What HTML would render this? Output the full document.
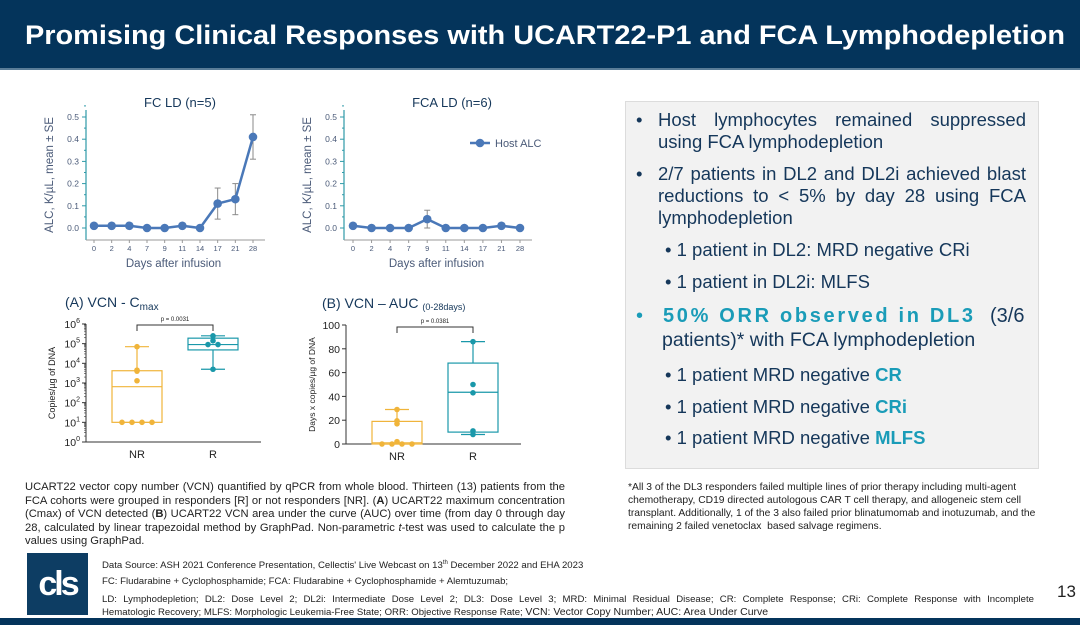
<!DOCTYPE html>
<html><head><meta charset="utf-8">
<style>
html,body{margin:0;padding:0;background:#fff;}
body{width:1080px;height:625px;position:relative;overflow:hidden;font-family:"Liberation Sans",sans-serif;}
.abs{position:absolute;}
.bl{position:absolute;color:#15375a;font-size:18.5px;white-space:nowrap;line-height:22px;}
.j{text-align:justify;text-align-last:justify;}
.hl{color:#1a9cb8;font-weight:bold;}
</style></head>
<body>
<div class="abs" style="left:0;top:0;width:1080px;height:68px;background:#04345b;border-bottom:2px solid #5a7d98;"></div>
<svg class="abs" style="left:0;top:0" width="1080" height="68"><text x="25" y="44" fill="#fff" font-family="Liberation Sans" font-weight="bold" font-size="27" textLength="1040" lengthAdjust="spacingAndGlyphs">Promising Clinical Responses with UCART22-P1 and FCA Lymphodepletion</text></svg>

<svg id="charts" class="abs" style="left:0;top:0" width="620" height="470" font-family="Liberation Sans"></svg>

<div class="abs" style="left:625px;top:101px;width:412px;height:366px;background:#f2f2f2;border:1px solid #dcdcdc;"></div>
<div class="bl" style="left:636px;top:109px">•</div>
<div class="bl j" style="left:658px;top:109px;width:368px">Host lymphocytes remained suppressed</div>
<div class="bl" style="left:658px;top:131px">using FCA lymphodepletion</div>
<div class="bl" style="left:636px;top:163px">•</div>
<div class="bl j" style="left:658px;top:163px;width:368px">2/7 patients in DL2 and DL2i achieved blast</div>
<div class="bl j" style="left:658px;top:185px;width:368px">reductions to &lt; 5% by day 28 using FCA</div>
<div class="bl" style="left:658px;top:207px">lymphodepletion</div>
<div class="bl" style="left:665px;top:239px">• 1 patient in DL2: MRD negative CRi</div>
<div class="bl" style="left:665px;top:271px">• 1 patient in DL2i: MLFS</div>
<div class="bl" style="left:636px;top:305px;color:#1a9cb8;font-size:20px">•</div>
<svg class="abs" style="left:660px;top:300px" width="370" height="30"><text x="3" y="22" fill="#1a9cb8" font-family="Liberation Sans" font-weight="bold" font-size="20" textLength="310" lengthAdjust="spacing">50% ORR observed in DL3</text><text x="330" y="22" fill="#15375a" font-family="Liberation Sans" font-size="20">(3/6</text></svg>
<div class="bl" style="left:662px;top:329px;font-size:19.5px">patients)* with FCA lymphodepletion</div>
<div class="bl" style="left:665px;top:364px">• 1 patient MRD negative <span class="hl">CR</span></div>
<div class="bl" style="left:665px;top:396px">• 1 patient MRD negative <span class="hl">CRi</span></div>
<div class="bl" style="left:665px;top:427px">• 1 patient MRD negative <span class="hl">MLFS</span></div>

<div class="abs" style="left:628px;top:481px;width:422px;font-size:10.3px;line-height:13px;color:#222;">*All 3 of the DL3 responders failed multiple lines of prior therapy including multi-agent chemotherapy, CD19 directed autologous CAR T cell therapy, and allogeneic stem cell transplant. Additionally, 1 of the 3 also failed prior blinatumomab and inotuzumab, and the remaining 2 failed venetoclax&nbsp; based salvage regimens.</div>

<div class="abs" style="left:25px;top:481px;width:540px;font-size:11.2px;line-height:13.6px;color:#222;text-align:justify;">UCART22 vector copy number (VCN) quantified by qPCR from whole blood. Thirteen (13) patients from the FCA cohorts were grouped in responders [R] or not responders [NR]. (<b>A</b>) UCART22 maximum concentration (Cmax) of VCN detected (<b>B</b>) UCART22 VCN area under the curve (AUC) over time (from day 0 through day 28, calculated by linear trapezoidal method by GraphPad. Non-parametric <i>t</i>-test was used to calculate the p values using GraphPad.</div>

<div class="abs" style="left:27px;top:553px;width:61px;height:62px;background:#0d3d63;color:#fff;font-weight:bold;font-size:34px;line-height:62px;text-align:center;letter-spacing:-3px;">cls</div>
<div class="abs" style="left:102px;top:557px;width:932px;font-size:9.6px;line-height:13.2px;color:#222;">
<div>Data Source: ASH 2021 Conference Presentation, Cellectis' Live Webcast on 13<sup style="font-size:6px">th</sup> December 2022 and EHA 2023</div>
<div style="margin-top:3px">FC: Fludarabine + Cyclophosphamide; FCA: Fludarabine + Cyclophosphamide + Alemtuzumab;</div>
<div style="margin-top:4px;text-align:justify;text-align-last:justify;white-space:nowrap;">LD: Lymphodepletion; DL2: Dose Level 2; DL2i: Intermediate Dose Level 2; DL3: Dose Level 3; MRD: Minimal Residual Disease; CR: Complete Response; CRi: Complete Response with Incomplete</div>
<div>Hematologic Recovery; MLFS: Morphologic Leukemia-Free State; ORR: Objective Response Rate; <span style="font-size:10.5px">VCN: Vector Copy Number; AUC: Area Under Curve</span></div>
</div>
<div class="abs" style="left:1057px;top:582px;font-size:17px;color:#222;">13</div>
<div class="abs" style="left:0;top:618px;width:1080px;height:7px;background:#04345b;"></div>

<script>
const days = ["0","2","4","7","9","11","14","17","21","28"];
const fcMean = [0.01,0.01,0.01,0,0,0.01,0,0.11,0.13,0.41];
const fcLow  = [null,null,null,null,null,null,null,0.04,0.06,0.31];
const fcHigh = [null,null,null,null,null,null,null,0.18,0.20,0.51];
const fcaMean = [0.01,0,0,0,0.04,0,0,0,0.01,0];
const fcaLow  = [null,null,null,null,0,null,null,null,null,null];
const fcaHigh = [null,null,null,null,0.08,null,null,null,null,null];
const alcTicks = [0,0.1,0.2,0.3,0.4,0.5];

const cmaxNR = [70000,4500,4000,1300,10,10,10,10];
const cmaxR = [140000,250000,90000,90000,5000];
const cmaxNRbox = [10,650,4200,10,70000]; // q1, median, q3, min, max
const cmaxRbox = [48000,90000,190000,5000,250000];
const aucNR = [29,17,19.5,2,0,0,0,0];
const aucR = [86,50,43,11,8];
const aucNRbox = [0,1,19,0,29];
const aucRbox = [10,43.5,68,8,86];
const aucTicks = [0,20,40,60,80,100];
const groups = ["NR","R"];

const NS="http://www.w3.org/2000/svg";
const svg=document.getElementById('charts');
function el(tag,attrs,parent,txt){const e=document.createElementNS(NS,tag);for(const k in attrs)e.setAttribute(k,attrs[k]);if(txt!=null)e.textContent=txt;(parent||svg).appendChild(e);return e;}

function lineChart(ox,x0,x1,mean,lo,hi,title,tx,name,legend){
  const g=el('g',{});
  
  
  const yS=v=>228-v*(111/0.5);
  const xS=i=>x0+i*(x1-x0)/(days.length-1);
  const ax="#2e9aa8", tc="#4a5a78";
  el('line',{x1:ox,y1:110,x2:ox,y2:240,stroke:ax,'stroke-width':1.2},g);
  el('line',{x1:ox,y1:240,x2:x1+12,y2:240,stroke:"#999",'stroke-width':1},g);
  alcTicks.forEach(t=>{const y=yS(t);
    el('line',{x1:ox-4,y1:y,x2:ox,y2:y,stroke:ax},g);
    el('line',{x1:ox-2,y1:yS(t+0.05),x2:ox,y2:yS(t+0.05),stroke:ax},g);
    const lb=el('text',{x:ox-7,y:y+3,'font-size':8.5,fill:tc,'text-anchor':'end'},g,t.toFixed(1));
    
  });
  days.forEach((d,i)=>{const x=xS(i);
    el('line',{x1:x,y1:240,x2:x,y2:243,stroke:"#999"},g);
    const lb=el('text',{x:x,y:251,'font-size':7.5,fill:tc,'text-anchor':'middle'},g,d);
    
  });
  const col="#4a78b8";
  mean.forEach((v,i)=>{ if(lo[i]!=null){const x=xS(i);
    el('line',{x1:x,y1:yS(lo[i]),x2:x,y2:yS(hi[i]),stroke:"#8a8a8a",'stroke-width':1},g);
    el('line',{x1:x-3,y1:yS(lo[i]),x2:x+3,y2:yS(lo[i]),stroke:"#8a8a8a"},g);
    el('line',{x1:x-3,y1:yS(hi[i]),x2:x+3,y2:yS(hi[i]),stroke:"#8a8a8a"},g);}});
  el('polyline',{points:mean.map((v,i)=>xS(i)+','+yS(v)).join(' '),fill:'none',stroke:col,'stroke-width':2.5},g);
  mean.forEach((v,i)=>{const c=el('circle',{cx:xS(i),cy:yS(v),r:4.3,fill:col},g);
    });
  el('text',{x:tx,y:107,'font-size':13,fill:'#15375a','text-anchor':'middle'},g,title);
  el('text',{x:(x0+x1)/2,y:267,'font-size':11.5,fill:tc,'text-anchor':'middle'},g,'Days after infusion');
  el('text',{transform:`translate(${ox-33},175) rotate(-90)`,'font-size':11.5,fill:tc,'text-anchor':'middle'},g,'ALC, K/µL, mean ± SE');
  if(legend){
    el('line',{x1:470,y1:143,x2:490,y2:143,stroke:col,'stroke-width':2.5},g);
    el('circle',{cx:480,cy:143,r:4.3,fill:col},g);
    el('text',{x:495,y:147,'font-size':11,fill:tc},g,'Host ALC');
  }
}
lineChart(86,94,253,fcMean,fcLow,fcHigh,'FC LD (n=5)',180,'fc-ld-chart',false);
lineChart(344,353,520,fcaMean,fcaLow,fcaHigh,'FCA LD (n=6)',452,'fca-ld-chart',true);

const OR="#f0b43a", TE="#1a98aa";
function boxChart(o){
  const g=el('g',{});
  
  
  el('line',{x1:o.ax,y1:o.yTop,x2:o.ax,y2:o.yBot,stroke:'#333'},g);
  el('line',{x1:o.ax,y1:o.yBot,x2:o.ax+175,y2:o.yBot,stroke:'#333'},g);
  o.ticks.forEach(t=>{const y=o.yS(t);
    el('line',{x1:o.ax-4,y1:y,x2:o.ax,y2:y,stroke:'#333'},g);
    const lb=el('text',{x:o.ax-6,y:y+4,'font-size':10.5,fill:'#222','text-anchor':'end'},g,o.fmt?null:String(t));
    if(o.fmt){lb.textContent='10';el('tspan',{dy:-5,'font-size':7},lb,String(Math.round(Math.log10(t))));}
    
  });
  if(o.minor){for(let d=0;d<6;d++)for(let m=2;m<10;m++){const y=o.yS(m*Math.pow(10,d));el('line',{x1:o.ax-2,y1:y,x2:o.ax,y2:y,stroke:'#333','stroke-width':0.6},g);}}
  const cx=[o.ax+51,o.ax+127];
  [[o.nrBox,o.nr,OR],[o.rBox,o.r,TE]].forEach(([b,pts,c],gi)=>{
    const x=cx[gi],w=25;
    el('line',{x1:x,y1:o.yS(b[3]),x2:x,y2:o.yS(b[0]),stroke:c,'stroke-width':1.2},g);
    el('line',{x1:x,y1:o.yS(b[2]),x2:x,y2:o.yS(b[4]),stroke:c,'stroke-width':1.2},g);
    el('line',{x1:x-12,y1:o.yS(b[3]),x2:x+12,y2:o.yS(b[3]),stroke:c,'stroke-width':1.2},g);
    el('line',{x1:x-12,y1:o.yS(b[4]),x2:x+12,y2:o.yS(b[4]),stroke:c,'stroke-width':1.2},g);
    const r=el('rect',{x:x-w,y:o.yS(b[2]),width:2*w,height:o.yS(b[0])-o.yS(b[2]),fill:'#fff','fill-opacity':0.6,stroke:c,'stroke-width':1.2},g);
    
    el('line',{x1:x-w,y1:o.yS(b[1]),x2:x+w,y2:o.yS(b[1]),stroke:c,'stroke-width':1.2},g);
    pts.forEach((v,i)=>{const same=pts.filter(p=>p===v).length;const idx=pts.slice(0,i).filter(p=>p===v).length;
      const dx=(idx-(same-1)/2)*10;
      const p=el('circle',{cx:x+dx,cy:o.yS(v),r:2.8,fill:c},g);
      });
    el('text',{x:x,y:o.yBot+16,'font-size':11,fill:'#222','text-anchor':'middle'},g,groups[gi]);
  });
  el('path',{d:`M${cx[0]},${o.pY+6}V${o.pY}H${cx[1]}V${o.pY+6}`,fill:'none',stroke:'#333'},g);
  el('text',{x:(cx[0]+cx[1])/2,y:o.pY-4,'font-size':6,fill:'#222','text-anchor':'middle'},g,o.p);
  el('text',{transform:`translate(${o.ax-31},${(o.yTop+o.yBot)/2}) rotate(-90)`,'font-size':o.ytSize,fill:'#222','text-anchor':'middle'},g,o.yTitle);
  const tt=el('text',{x:o.tx,y:o.ty,'font-size':14,fill:'#15375a'},g,o.title);
  el('tspan',{'font-size':o.subSize,dy:o.subDy},tt,o.sub);
}
boxChart({name:'vcn-cmax-chart',ax:86,yTop:324,yBot:442,yS:v=>442-Math.log10(v)*19.67,ticks:[1,10,100,1000,10000,100000,1000000],fmt:true,minor:true,
  nrBox:cmaxNRbox,rBox:cmaxRbox,nr:cmaxNR,r:cmaxR,pY:325,p:'p = 0.0031',yTitle:'Copies/µg of DNA',ytSize:9,title:'(A) VCN - C',sub:'max',subSize:10,subDy:3,tx:65,ty:307});
boxChart({name:'vcn-auc-chart',ax:346,yTop:325,yBot:444,yS:v=>444-v*1.19,ticks:aucTicks,fmt:false,minor:false,
  nrBox:aucNRbox,rBox:aucRbox,nr:aucNR,r:aucR,pY:327,p:'p = 0.0381',yTitle:'Days x copies/µg of DNA',ytSize:8.5,title:'(B) VCN – AUC ',sub:'(0-28days)',subSize:9,subDy:2,tx:322,ty:308});
</script>
</body></html>
